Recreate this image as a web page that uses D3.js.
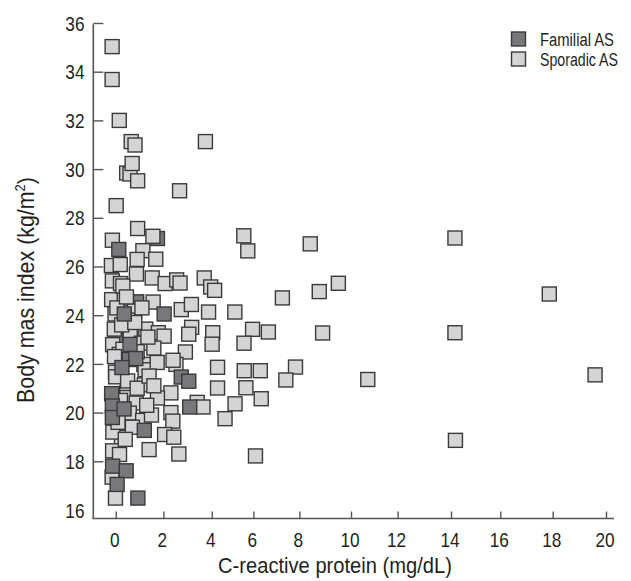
<!DOCTYPE html>
<html><head><meta charset="utf-8">
<script src="https://cdn.jsdelivr.net/npm/d3@7"></script>
<style>
body{margin:0;background:#fff}
svg{display:block}
text{font-family:"Liberation Sans","Arial",sans-serif;fill:#231f20}
</style>
</head><body>
<svg id="chart" width="631" height="581"></svg>
<script>
// ---- data ----
const xTickValues = [0, 2, 4, 6, 8, 10, 12, 14, 16, 18, 20];
const yTickValues = [16, 18, 20, 22, 24, 26, 28, 30, 32, 34, 36];
const seriesNames = ["Familial AS", "Sporadic AS"];
const xTitle = "C-reactive protein (mg/dL)";

// [CRP mg/dL, BMI kg/m2]
const sporadicPoints = [
  [-0.15, 35.03], [-0.15, 33.68], [0.15, 32.0], [0.65, 31.13], [0.81, 30.99], [3.74, 31.13],
  [0.46, 29.84], [0.6, 29.8], [0.69, 30.23], [0.92, 29.52], [2.67, 29.11], [0.02, 28.5],
  [0.92, 27.56], [1.56, 27.24], [-0.14, 27.08], [1.14, 26.65], [1.68, 26.3], [0.9, 26.29],
  [-0.18, 26.04], [0.19, 26.08], [0.87, 25.69], [1.53, 25.53], [2.07, 25.3], [2.55, 25.45],
  [2.69, 25.32], [3.69, 25.53], [3.96, 25.16], [4.14, 25.02], [-0.14, 25.41], [0.2, 25.3],
  [-0.17, 24.64], [0.36, 24.7], [1.57, 24.54], [2.74, 24.23], [3.16, 24.44], [3.87, 24.13],
  [5.11, 24.13], [0.79, 24.18], [-0.03, 24.05], [0.05, 24.3], [1.26, 23.43], [1.79, 23.28],
  [2.03, 23.14], [3.17, 23.5], [3.05, 23.22], [4.05, 23.28], [4.02, 22.81], [0.61, 23.36],
  [-0.06, 23.43], [-0.13, 22.79], [0.15, 22.39], [1.07, 22.85], [1.6, 22.65], [2.91, 22.49],
  [1.18, 21.98], [-0.01, 21.66], [1.23, 21.76], [1.74, 22.06], [2.52, 21.98], [2.4, 22.15],
  [4.28, 21.86], [5.56, 21.72], [4.28, 21.01], [5.64, 21.02], [2.31, 20.81], [0.46, 20.81],
  [1.2, 21.14], [0.47, 20.62], [0.86, 20.39], [0.57, 19.98], [1.13, 19.68], [0.24, 18.98],
  [1.75, 20.6], [3.4, 20.42], [3.64, 20.23], [2.31, 20.0], [2.39, 19.65], [2.05, 19.1],
  [2.43, 18.99], [1.4, 18.48], [2.64, 18.3], [-0.13, 18.43], [0.16, 18.28], [-0.15, 17.35],
  [-0.01, 16.49], [-0.12, 19.2], [0.0, 21.47], [4.64, 19.75],
  [0.3, 25.2], [0.45, 24.75], [0.5, 23.8], [0.25, 23.6], [0.8, 23.7], [1.1, 24.3],
  [1.35, 23.1], [0.9, 22.5], [0.3, 22.6], [-0.05, 22.3], [0.5, 21.3], [0.9, 21.0],
  [1.4, 21.5], [1.6, 21.1], [0.2, 20.5], [0.1, 19.6], [0.7, 19.4], [1.5, 19.9],
  [0.4, 18.9], [1.3, 20.3],
  [5.54, 27.26], [5.73, 26.64], [8.42, 26.93], [7.26, 24.71], [8.77, 24.97], [9.51, 25.31],
  [5.96, 23.42], [6.65, 23.31], [5.55, 22.85], [8.9, 23.27], [6.3, 21.72], [7.83, 21.87],
  [7.41, 21.34], [10.72, 21.36], [6.34, 20.57], [5.12, 20.36], [6.09, 18.22],
  [14.16, 27.17], [17.87, 24.87], [14.16, 23.28], [19.59, 21.55], [14.18, 18.86]
];
// first three are partly hidden behind sporadic squares in the figure
const familialPoints = [
  [1.75, 27.15], [0.88, 24.55], [0.0, 23.1],
  [0.13, 26.7], [0.36, 24.05], [2.03, 24.05],
  [0.6, 22.8], [0.57, 22.18], [0.84, 22.22], [0.26, 21.85], [2.74, 21.46],
  [3.05, 21.29], [-0.17, 20.78], [-0.14, 20.27], [-0.14, 19.8], [0.35, 20.15], [3.09, 20.23],
  [1.2, 19.27], [-0.13, 17.8], [0.44, 17.61], [0.06, 17.05], [0.93, 16.49]
];

// ---- layout ----
const svg = d3.select("#chart");
// calibrated tick positions of the printed x axis (ticks are not evenly spaced in the figure)
const xTickPx = [115.7, 163.4, 211.7, 253.4, 299.4, 351, 397.6, 451, 500.3, 552.7, 606];
const x = d3.scaleLinear().domain(xTickValues).range(xTickPx);
const y = d3.scaleLinear().domain([16, 36]).range([510, 23]);
const axisX0 = 93.3, axisY0 = 518.5;
const axisColor = "#555";

// condensed text: place at (px,py), squeeze horizontally to a target width
function condText(parent, px, py, str, size, anchor, targetW, rotate) {
  const t = parent.append("text").attr("font-size", size).attr("text-anchor", anchor).text(str);
  const w = t.node().getComputedTextLength();
  const sx = targetW ? targetW / w : 0.82;
  t.attr("transform", `translate(${px},${py})` + (rotate ? ` rotate(${rotate})` : "") + ` scale(${sx},1)`);
  return t;
}

// axes lines
svg.append("line").attr("x1", axisX0).attr("x2", axisX0).attr("y1", 24.3).attr("y2", axisY0)
  .attr("stroke", axisColor).attr("stroke-width", 1.6);
svg.append("line").attr("x1", axisX0 - 0.8).attr("x2", 614).attr("y1", axisY0).attr("y2", axisY0)
  .attr("stroke", axisColor).attr("stroke-width", 1.6);

// y axis (ticks pointing inward)
const yAxis = d3.axisRight(y).tickValues(yTickValues).tickSize(10).tickFormat(() => "");
const gy = svg.append("g").attr("transform", `translate(${axisX0},0)`).call(yAxis);
gy.select(".domain").remove();
gy.selectAll(".tick line").attr("stroke", axisColor).attr("stroke-width", 1.4)
  .attr("display", d => d === 16 ? "none" : null);
const gyl = svg.append("g");
yTickValues.forEach(v => condText(gyl, 84.5, y(v) + 7.6, String(v), 21, "end", null));

// x axis (ticks pointing inward)
const xAxis = d3.axisTop(x).tickValues(xTickValues).tickSize(7).tickFormat(() => "");
const gx = svg.append("g").attr("transform", `translate(0,${axisY0})`).call(xAxis);
gx.select(".domain").remove();
gx.selectAll(".tick line").attr("stroke", axisColor).attr("stroke-width", 1.4);
const gxl = svg.append("g");
xTickValues.forEach(v => condText(gxl, x(v) - 1, 546.5, String(v), 21, "middle", null));

// titles
condText(svg, 335, 573, xTitle, 23, "middle", 234);
const yt = svg.append("text").attr("font-size", 23).attr("text-anchor", "middle");
yt.append("tspan").text("Body mas index (kg/m");
yt.append("tspan").attr("font-size", 14).attr("dy", -9).text("2");
yt.append("tspan").attr("dy", 9).text(")");
{
  const w = yt.node().getBBox().width;
  yt.attr("transform", `translate(34,290) rotate(-90) scale(${226 / w},1)`);
}

// points
const size = 14;
const fills = ["#77787b", "#d3d4d6"];
function drawSquares(data, fill) {
  svg.append("g").selectAll("rect").data(data).join("rect")
    .attr("x", d => x(d[0]) - size / 2).attr("y", d => y(d[1]) - size / 2)
    .attr("width", size).attr("height", size)
    .attr("fill", fill).attr("stroke", "#3a3a3a").attr("stroke-width", 1.4);
}
const nBehind = 3;
drawSquares(familialPoints.slice(0, nBehind), fills[0]);
drawSquares(sporadicPoints, fills[1]);
drawSquares(familialPoints.slice(nBehind), fills[0]);

// legend
const lg = svg.append("g");
const legendW = [74, 78];
seriesNames.forEach((name, i) => {
  lg.append("rect").attr("x", 511.5).attr("y", 32 + i * 20).attr("width", 14).attr("height", 14)
    .attr("fill", fills[i]).attr("stroke", "#3a3a3a").attr("stroke-width", 1.4);
  condText(lg, 540, 39 + i * 20 + 6.8, name, 19, "start", legendW[i]);
});
</script>
</body></html>
